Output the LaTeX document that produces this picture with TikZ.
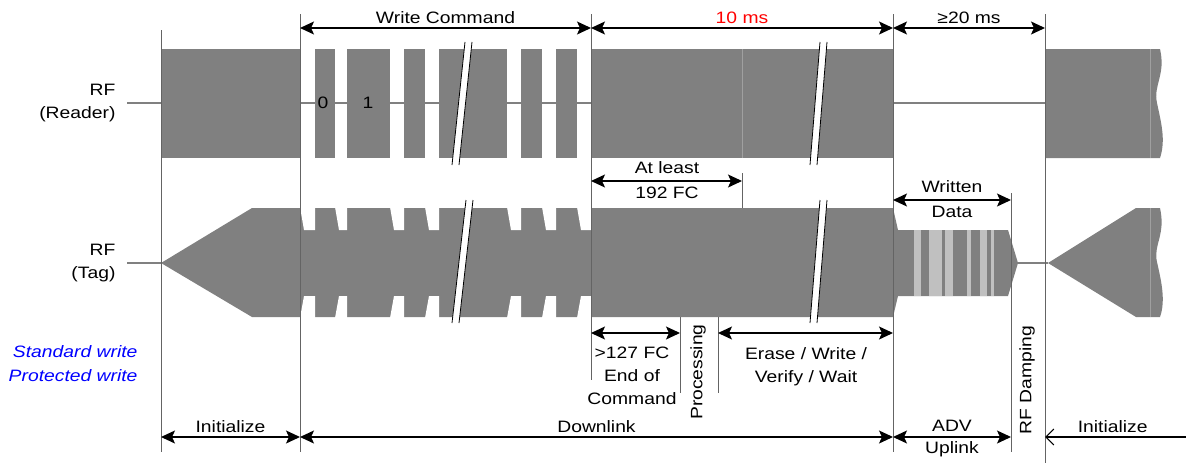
\documentclass[tikz,border=0pt]{standalone}
\usepackage{fontspec}
\setmainfont{Liberation Sans}[FakeStretch=1.17]
\usetikzlibrary{arrows.meta,calc}
\definecolor{rfgray}{RGB}{128,128,128}
\definecolor{rflight}{RGB}{192,192,192}
\definecolor{rfthin}{RGB}{160,160,160}
\definecolor{guidecol}{RGB}{100,100,100}
\definecolor{noteblue}{RGB}{0,0,255}
\definecolor{msred}{RGB}{255,0,0}
% white double-slash break: bottom point, top point
\newcommand{\rfbreak}[4]{%
  \fill[white] (#1,#2) -- (#3,#4) -- (#3+7,#4) -- (#1+7,#2) -- cycle;
  \draw[line width=0.8pt] (#1,#2) -- (#3,#4) (#1+7,#2) -- (#3+7,#4);}

\begin{document}
\begin{tikzpicture}[x=1pt,y=-1pt,
  font=\fontsize{16.5}{23}\selectfont,
  dim/.style={{Stealth[length=14pt,width=13pt,inset=3pt]}-{Stealth[length=14pt,width=13pt,inset=3pt]},line width=1.3pt},
  vline/.style={draw=guidecol,line width=0.9pt},
  carrier/.style={draw=rfgray,line width=2.5pt},
  note/.style={text=noteblue,font=\fontsize{16.5}{23}\selectfont\itshape,anchor=east}]
\useasboundingbox (0,0) rectangle (1186,463);
% levels of the dimension arrows
\coordinate (top) at (0,28);
\coordinate (fcy) at (0,181);
\coordinate (daty) at (0,200);
\coordinate (sub) at (0,333);
\coordinate (bot) at (0,437);
% time marks
\foreach \n/\xx in {ini/161,cmd/300,eoc/591,eocB/680,proc/718,fc/742,dl/893,dat/1011,rst/1045,edge/1186}
  \coordinate (\n) at (\xx,0);

% reader carrier
\draw[carrier] (127,103) -- (1045,103);
\fill[rfgray] (161,49) rectangle (300,158);
\foreach \a/\b in {315/335,347/390,404/425,439/507,521/542,556/577}
  \fill[rfgray] (\a,49) rectangle (\b,158);
\fill[rfgray] (591,49) rectangle (893,158);
\fill[rfgray] (1046,49) -- (1160,49) .. controls (1166,75) and (1153,85) .. (1157,103)
  .. controls (1161,122) and (1166,140) .. (1160,158) -- (1046,158) -- cycle;
\draw[rfthin,line width=0.6pt] (742,49) -- (742,158) (1150,49) -- (1150,158);
\node (bit0) at (323,103) {0};
\node (bit1) at (368,103) {1};

% tag carrier
\draw[carrier] (127,263) -- (161,263) (1018,263) -- (1048,263);
\fill[rfgray] (161,263) -- (252,208) -- (893,208) -- (898,230) -- (1008,230) -- (1018,263)
  -- (1008,296) -- (898,296) -- (893,317) -- (252,317) -- cycle;
\foreach \a/\b in {300/315,335/347,390/404,425/439,507/521,542/556,577/591} {
  \fill[white] (\a,207) -- (\b,207) -- (\b,230) -- (\a+4,230) -- cycle;
  \fill[white] (\a+4,296) -- (\b,296) -- (\b,318) -- (\a,318) -- cycle;}
\foreach \a/\b in {914/921,929/942,945/953,967/971,980/987,991/994}
  \fill[rflight] (\a,230) rectangle (\b,296);
\fill[rfgray] (1048,263) -- (1136,208) -- (1160,208) .. controls (1166,235) and (1153,245) .. (1157,262)
  .. controls (1161,280) and (1166,300) .. (1160,317) -- (1136,317) -- cycle;
\draw[rfthin,line width=0.6pt] (1150,208) -- (1150,317);

% breaks
\rfbreak{452}{165}{465}{42}
\rfbreak{452}{323}{466}{200}
\rfbreak{810}{165}{820}{42}
\rfbreak{810}{323}{820}{200}

% guide lines
\foreach \xx/\ya/\yb in {161/30/452,300/14/452,591/14/380,893/14/452,1045/14/463,1011/193/452,742/173/208,680/317/393,718/317/393}
  \draw[vline] (\xx,\ya) -- (\xx,\yb);

% signal names
\node[anchor=east,align=right] (rdr) at (119,103) {RF\\(Reader)};
\node[anchor=east,align=right] (tag) at (119,263) {RF\\(Tag)};
\node[note] (std) at (141,352) {Standard write};
\node[note] (prot) at (141,376) {Protected write};

% top dimensions
\draw[dim] (cmd |- top) -- (eoc |- top) node[midway,above=0pt] (wc) {Write Command};
\draw[dim] (eoc |- top) -- (dl |- top) node[midway,above=0pt,text=msred] (ten) {10 ms};
\draw[dim] (dl |- top) -- (rst |- top) node[midway,above=0pt] (twenty) {≥20 ms};
\draw[dim] (eoc |- fcy) -- (fc |- fcy);
\node (atl) at (667,168) {At least};
\node (fcn) at (667,193) {192 FC};
\draw[dim] (dl |- daty) -- (dat |- daty);
\node (wr) at (952,187) {Written};
\node (wdat) at (952,212) {Data};

% sub phases
\draw[dim] (eoc |- sub) -- (eocB |- sub);
\node[align=center] (eocl) at (632,376) {>127 FC\\End of\\Command};
\node[rotate=90] (procl) at (698,372) {Processing};
\draw[dim] (proc |- sub) -- (dl |- sub);
\node[align=center] (ewl) at (806,367) {Erase / Write /\\Verify / Wait};
\node[rotate=90] (damp) at (1027,380) {RF Damping};

% bottom phases
\draw[dim] (ini |- bot) -- (cmd |- bot) node[midway,above=0pt] (init1) {Initialize};
\draw[dim] (cmd |- bot) -- (dl |- bot) node[midway,above=0pt] (down) {Downlink};
\draw[dim] (dl |- bot) -- (dat |- bot);
\node (adv) at (952,426) {ADV};
\node (upl) at (952,449) {Uplink};
\draw[{Straight Barb[length=8pt,width=16pt]}-,line width=1.1pt] (rst |- bot) -- (edge |- bot)
  node[pos=0.48,above=0pt] (init2) {Initialize};
\end{tikzpicture}
\end{document}
